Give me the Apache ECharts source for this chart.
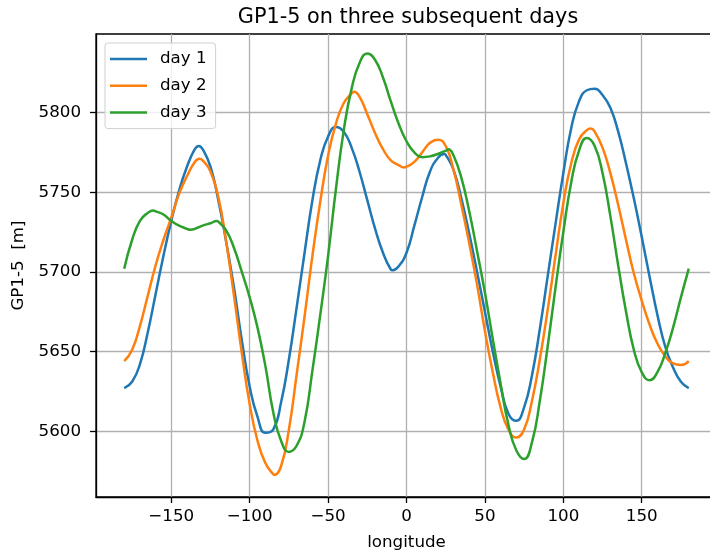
<!DOCTYPE html>
<html>
<head>
<meta charset="utf-8">
<script src="https://cdn.jsdelivr.net/npm/echarts@6/dist/echarts.min.js"></script>
<style>
  html, body { margin: 0; padding: 0; background: #fff; }
  #chart { width: 710px; height: 552px; }
</style>
</head>
<body>
<div id="chart"></div>
<script>
// longitude in degrees, 5 degree steps
const longitude = [
  -180, -175, -170, -165, -160, -155, -150, -145, -140, -135, -130, -125, -120,
  -115, -110, -105, -100, -95, -90, -85, -80, -75, -70, -65, -60,
  -55, -50, -45, -40, -35, -30, -25, -20, -15, -10, -5, 0,
  5, 10, 15, 20, 25, 30, 35, 40, 45, 50, 55, 60,
  65, 70, 75, 80, 85, 90, 95, 100, 105, 110, 115, 120,
  125, 130, 135, 140, 145, 150, 155, 160, 165, 170, 175, 180
];

// GP1-5 values [m]
const day1 = [
  5627, 5631, 5642, 5662, 5686, 5710, 5732, 5751, 5766, 5777, 5777, 5766, 5745,
  5719, 5690, 5657, 5628, 5609, 5599, 5601, 5618, 5645, 5678, 5712, 5745,
  5770, 5785, 5791, 5788, 5778, 5763, 5745, 5727, 5712, 5701.5, 5703.5, 5712,
  5729, 5747, 5763, 5771.5, 5773.5, 5764, 5746, 5724, 5700, 5675, 5650, 5628,
  5611, 5606.5, 5615, 5635, 5664, 5697, 5730, 5762, 5790, 5807, 5814, 5815,
  5811, 5803, 5788, 5768, 5746, 5722, 5697, 5673, 5653, 5640, 5631, 5627
];
const day2 = [
  5644, 5651, 5666, 5685, 5704, 5720, 5734, 5749, 5760, 5769, 5770, 5763, 5747,
  5719, 5685, 5649, 5617, 5594, 5580, 5573, 5578, 5601, 5636, 5672, 5710,
  5744, 5773, 5793, 5806, 5812, 5810, 5799, 5787, 5777, 5770, 5767, 5766,
  5769, 5775, 5781, 5783, 5779, 5764, 5742, 5718, 5692, 5663, 5637, 5615,
  5601, 5596, 5601, 5619, 5645, 5676, 5710, 5743, 5768, 5783, 5789, 5788,
  5778, 5762, 5742, 5720, 5699, 5682, 5667, 5655, 5647, 5642.5, 5641.5, 5644
];
const day3 = [
  5702, 5720, 5732, 5737, 5738, 5736, 5732, 5729, 5727, 5727, 5729, 5730.5, 5731.5,
  5726, 5715, 5700, 5684, 5665, 5641, 5612, 5594, 5587, 5591, 5606, 5638,
  5673, 5710, 5752, 5789, 5815, 5831, 5837, 5833, 5822, 5807, 5793, 5782,
  5775, 5772, 5772.5, 5774, 5776, 5773, 5759, 5738, 5713, 5687, 5658, 5630,
  5604, 5588, 5582.5, 5593, 5619, 5653, 5690, 5725, 5756, 5776, 5784, 5779,
  5762, 5735, 5704, 5675, 5651, 5637, 5632, 5637, 5649, 5665, 5684, 5702
];

// turning points that fall between the 5 degree samples
const day1TurnLon = [-132.5, -8.8, 24];
const day1TurnVal = [5779, 5701, 5774];
const day2TurnLon = [-132, -84.3, -33.5, -1.6, 117.5];
const day2TurnVal = [5771, 5572.6, 5813, 5765.5, 5790];
const day3TurnLon = [-161.5, -138, -121, 26.7];
const day3TurnVal = [5738.5, 5726.5, 5732, 5777];

const seriesNames = ["day 1", "day 2", "day 3"];
const xTicks = [-150, -100, -50, 0, 50, 100, 150];
const yTicks = [5600, 5650, 5700, 5750, 5800];

const colors = ["#1f77b4", "#ff7f0e", "#2ca02c"];
const font = "DejaVu Sans";
const fs = 16.7;

const chart = echarts.init(document.getElementById("chart"), null, { renderer: "canvas" });

function buildData(vals, turnLon, turnVal) {
  const pts = longitude.map((x, i) => [x, vals[i]]);
  turnLon.forEach((x, i) => pts.push([x, turnVal[i]]));
  return pts.sort((a, b) => a[0] - b[0]);
}

const seriesData = [
  buildData(day1, day1TurnLon, day1TurnVal),
  buildData(day2, day2TurnLon, day2TurnVal),
  buildData(day3, day3TurnLon, day3TurnVal)
];

const option = {
  animation: false,
  backgroundColor: "#fff",
  color: colors,
  title: {
    text: "GP1-5 on three subsequent days",
    left: 408,
    top: 7,
    padding: 0,
    textAlign: "center",
    textStyle: { fontFamily: font, fontSize: 20.8, fontWeight: "normal", color: "#000" }
  },
  legend: {
    orient: "vertical",
    left: 105,
    top: 43,
    padding: [7, 9, 7, 5],
    icon: "rect",
    itemWidth: 37,
    itemHeight: 2.5,
    itemGap: 8.8,
    backgroundColor: "rgba(255,255,255,0.8)",
    borderColor: "#d0d0d0",
    borderWidth: 1,
    borderRadius: 3,
    textStyle: { fontFamily: font, fontSize: fs, lineHeight: 18, color: "#000", padding: [0, 0, 0, 8] },
    data: seriesNames
  },
  grid: {
    left: 96,
    top: 34,
    width: 621,
    height: 463,
    show: true,
    borderColor: "#000",
    borderWidth: 1.3,
    containLabel: false,
    outerBoundsMode: "none"
  },
  xAxis: {
    type: "value",
    min: -198,
    max: 198,
    name: "longitude",
    nameLocation: "middle",
    nameGap: 37,
    nameTextStyle: { fontFamily: font, fontSize: fs, color: "#000" },
    axisLine: { show: true, onZero: false, lineStyle: { color: "#000", width: 1.3 } },
    axisTick: { show: true, length: 6, customValues: xTicks, lineStyle: { color: "#000", width: 1.3 } },
    axisLabel: {
      customValues: xTicks,
      margin: 11,
      fontFamily: font,
      fontSize: fs,
      color: "#000",
      formatter: (v) => String(v).replace("-", "\u2212")
    },
    splitLine: { show: true, lineStyle: { color: "#b0b0b0", width: 1.3 } }
  },
  yAxis: {
    type: "value",
    min: 5558.7,
    max: 5849.3,
    name: "GP1-5  [m]",
    nameLocation: "middle",
    nameRotate: 90,
    nameGap: 63,
    nameTextStyle: { fontFamily: font, fontSize: fs, color: "#000" },
    axisLine: { show: true, onZero: false, lineStyle: { color: "#000", width: 1.3 } },
    axisTick: { show: true, length: 6, customValues: yTicks, lineStyle: { color: "#000", width: 1.3 } },
    axisLabel: {
      customValues: yTicks,
      margin: 15,
      fontFamily: font,
      fontSize: fs,
      color: "#000",
      formatter: (v) => String(v)
    },
    splitLine: { show: true, lineStyle: { color: "#b0b0b0", width: 1.3 } }
  },
  series: seriesData.map((data, i) => ({
    name: seriesNames[i],
    type: "line",
    data: data,
    smooth: 0.5,
    symbol: "none",
    lineStyle: { width: 2.5, color: colors[i] },
    itemStyle: { color: colors[i] }
  }))
};

chart.setOption(option);
</script>
</body>
</html>
